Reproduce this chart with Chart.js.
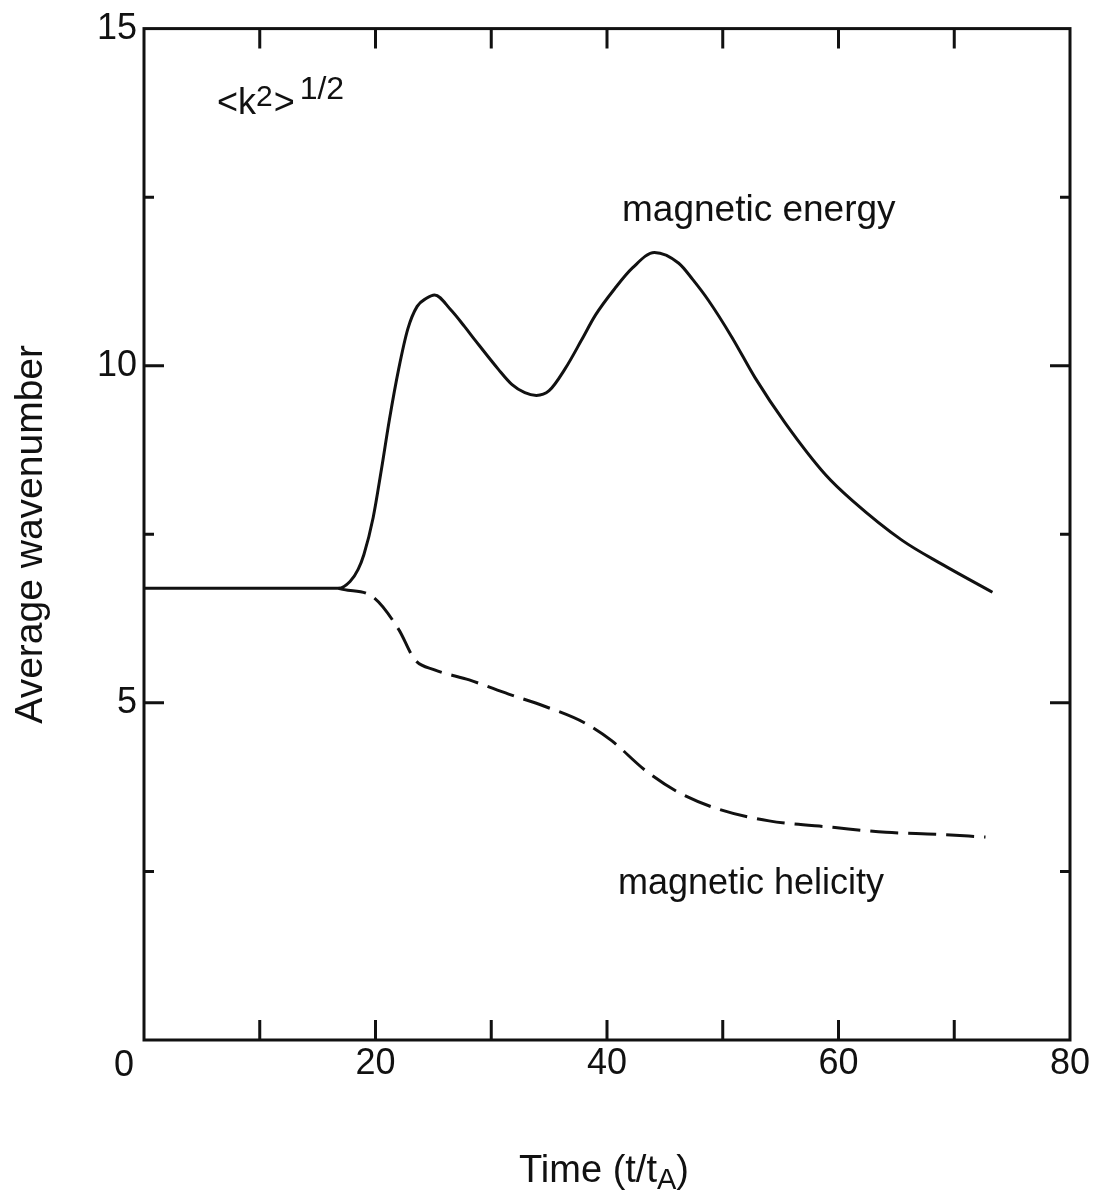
<!DOCTYPE html>
<html>
<head>
<meta charset="utf-8">
<script src="https://cdn.jsdelivr.net/npm/chart.js@4.4.1/dist/chart.umd.min.js"></script>
<style>
  html, body { margin: 0; padding: 0; background: #fff; }
  #wrap { width: 1102px; height: 1203px; position: relative; }
</style>
</head>
<body>
<div id="wrap"><canvas id="c" width="1102" height="1203"></canvas></div>
<script>
// ---- data ----
const energyTime = [0, 10, 16.8, 17.8, 18.5, 19.0, 19.8, 20.5, 21.2, 22.0, 22.8, 23.6, 24.4, 25.1, 26.5, 27.7, 28.6, 30.6, 31.8, 32.9, 33.9, 35.0, 36.4, 37.8, 39.0, 40.7, 42.2, 44.1, 46.2, 47.4, 48.8, 50.8, 52.8, 55.4, 58.9, 61.2, 65.5, 69.0, 73.3];
const energyK    = [6.7, 6.7, 6.7, 6.8, 6.98, 7.2, 7.75, 8.45, 9.2, 9.95, 10.55, 10.88, 11.0, 11.05, 10.83, 10.58, 10.38, 9.95, 9.72, 9.6, 9.56, 9.63, 9.96, 10.38, 10.75, 11.15, 11.45, 11.68, 11.52, 11.28, 10.96, 10.42, 9.82, 9.15, 8.38, 8.0, 7.41, 7.05, 6.64];
const helicityTime = [16.8, 17.3, 19.7, 22.0, 23.4, 25.1, 28.1, 31.5, 34.6, 38.1, 40.4, 43.3, 46.2, 49.7, 54.0, 59.7, 64.1, 68.4, 72.7];
const helicityK    = [6.7, 6.68, 6.58, 6.09, 5.64, 5.49, 5.34, 5.13, 4.95, 4.70, 4.44, 4.00, 3.67, 3.42, 3.25, 3.15, 3.08, 3.05, 3.01];
const xTickLabels = [0, 20, 40, 60, 80];
const yTickLabels = [5, 10, 15];
const xMinorTicks = [10, 20, 30, 40, 50, 60, 70];
const yMinorTicks = [2.5, 5, 7.5, 10, 12.5];
const seriesNames = ['magnetic energy', 'magnetic helicity'];

const FONT = '"Liberation Sans", Arial, Helvetica, sans-serif';
const INK = '#111';

const toPts = (xs, ys) => xs.map((x, i) => ({ x: x, y: ys[i] }));

const framePlugin = {
  id: 'frame',
  afterDraw(chart) {
    const ctx = chart.ctx;
    const xs = chart.scales.x, ys = chart.scales.y;
    const ca = chart.chartArea;
    ctx.save();
    ctx.strokeStyle = INK;
    ctx.fillStyle = INK;
    ctx.lineWidth = 3;
    ctx.strokeRect(ca.left, ca.top, ca.right - ca.left, ca.bottom - ca.top);
    // inward ticks
    ctx.lineWidth = 3;
    xMinorTicks.forEach(v => {
      const p = xs.getPixelForValue(v);
      ctx.beginPath();
      ctx.moveTo(p, ca.bottom); ctx.lineTo(p, ca.bottom - 20);
      ctx.moveTo(p, ca.top); ctx.lineTo(p, ca.top + 20);
      ctx.stroke();
    });
    yMinorTicks.forEach(v => {
      const p = ys.getPixelForValue(v);
      const len = (v % 5 === 0) ? 20 : 10;
      ctx.beginPath();
      ctx.moveTo(ca.left, p); ctx.lineTo(ca.left + len, p);
      ctx.moveTo(ca.right, p); ctx.lineTo(ca.right - len, p);
      ctx.stroke();
    });
    // origin label "0"
    ctx.font = '36px ' + FONT;
    ctx.textAlign = 'center';
    ctx.textBaseline = 'alphabetic';
    ctx.fillText('0', ca.left - 20, ca.bottom + 36);

    // <k^2>^{1/2}
    const ax = xs.getPixelForValue(6.3), ay = ys.getPixelForValue(13.74);
    ctx.textAlign = 'left';
    let x = ax;
    ctx.font = '36px ' + FONT;
    ctx.fillText('<k', x, ay); x += ctx.measureText('<k').width;
    ctx.font = '30px ' + FONT;
    ctx.fillText('2', x, ay - 8); x += ctx.measureText('2').width + 1;
    ctx.font = '36px ' + FONT;
    ctx.fillText('>', x, ay); x += ctx.measureText('>').width + 5;
    ctx.font = '32px ' + FONT;
    ctx.fillText('1/2', x, ay - 15);

    // series labels
    ctx.font = '37px ' + FONT;
    ctx.fillText(seriesNames[0], xs.getPixelForValue(41.3), ys.getPixelForValue(12.14));
    ctx.font = '36px ' + FONT;
    ctx.fillText(seriesNames[1], xs.getPixelForValue(40.95), ys.getPixelForValue(2.16));

    // x axis title: Time (t/tA)
    const cx = (ca.left + ca.right) / 2;
    const by = 1182;
    ctx.font = '38px ' + FONT;
    const w1 = ctx.measureText('Time (t/t').width;
    ctx.font = '29px ' + FONT;
    const w2 = ctx.measureText('A').width;
    ctx.font = '38px ' + FONT;
    const w3 = ctx.measureText(')').width;
    let sx = cx - (w1 + w2 + w3) / 2 - 3;
    ctx.fillText('Time (t/t', sx, by); sx += w1;
    ctx.font = '29px ' + FONT;
    ctx.fillText('A', sx, by + 7); sx += w2;
    ctx.font = '38px ' + FONT;
    ctx.fillText(')', sx, by);

    // y axis title
    ctx.save();
    ctx.translate(42, (ca.top + ca.bottom) / 2);
    ctx.rotate(-Math.PI / 2);
    ctx.font = '39px ' + FONT;
    ctx.textAlign = 'center';
    ctx.fillText('Average wavenumber', 0, 0);
    ctx.restore();
    ctx.restore();
  }
};

new Chart(document.getElementById('c'), {
  type: 'line',
  data: {
    datasets: [
      {
        label: seriesNames[0],
        data: toPts(energyTime, energyK),
        borderColor: INK,
        borderWidth: 3,
        pointRadius: 0,
        cubicInterpolationMode: 'monotone',
        fill: false
      },
      {
        label: seriesNames[1],
        data: toPts(helicityTime, helicityK),
        borderColor: INK,
        borderWidth: 3,
        borderDash: [28, 10],
        pointRadius: 0,
        cubicInterpolationMode: 'monotone',
        fill: false
      }
    ]
  },
  options: {
    responsive: false,
    devicePixelRatio: 1,
    animation: false,
    layout: { padding: { top: 27, right: 32, left: 0, bottom: 0 } },
    plugins: { legend: { display: false }, tooltip: { enabled: false } },
    scales: {
      x: {
        type: 'linear', min: 0, max: 80,
        afterBuildTicks: s => { s.ticks = xTickLabels.map(v => ({ value: v })); },
        ticks: {
          color: INK, font: { family: FONT, size: 36 }, padding: 2, maxRotation: 0,
          callback: v => (v === 0 ? '' : String(v))
        },
        grid: { display: false, drawTicks: false },
        border: { display: false },
        afterFit: s => { s.height = 163; }
      },
      y: {
        type: 'linear', min: 0, max: 15,
        afterBuildTicks: s => { s.ticks = yTickLabels.map(v => ({ value: v })); },
        ticks: { color: INK, font: { family: FONT, size: 36 }, padding: 7 },
        grid: { display: false, drawTicks: false },
        border: { display: false },
        afterFit: s => { s.width = 144; }
      }
    }
  },
  plugins: [framePlugin]
});
</script>
</body>
</html>
